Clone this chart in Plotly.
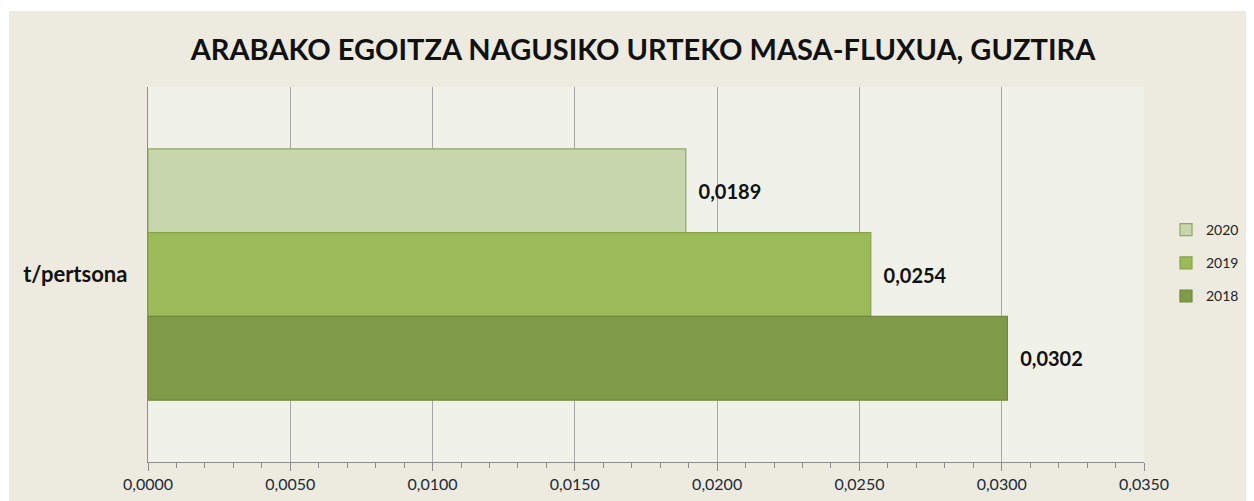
import plotly.graph_objects as go

categories = ["t/pertsona"]
values_2018 = [0.0302]
values_2019 = [0.0254]
values_2020 = [0.0189]
tick_vals = [0, 0.005, 0.01, 0.015, 0.02, 0.025, 0.03, 0.035]
tick_text = ["0,0000", "0,0050", "0,0100", "0,0150", "0,0200", "0,0250", "0,0300", "0,0350"]
title = "ARABAKO EGOITZA NAGUSIKO URTEKO MASA-FLUXUA, GUZTIRA"

series = [
    ("2020", values_2020, "#C7D6AC", "#8FA862"),
    ("2019", values_2019, "#9BBB59", "#86A548"),
    ("2018", values_2018, "#7F9A48", "#71893F"),
]

fig = go.Figure()
for name, vals, fill, line in series:
    fig.add_trace(go.Bar(
        y=categories, x=vals, name=name, orientation="h", legendgroup=name,
        marker=dict(color=fill, line=dict(color=line, width=1.2)),
        texttemplate="  %{x:.4f}", textposition="outside",
        textfont=dict(family="Lato", size=20, color="#111111", weight="bold"),
        cliponaxis=False,
    ))

# page body adds an 8px offset; figure coordinates are reference pixels minus 8
OFF = 8
W, H = 1254, 501 - OFF
x0p, x1p, y0p, y1p = 148 - OFF, 1144 - OFF, 87 - OFF, 462 - OFF
L, R, T, B = x0p, W - x1p, y0p, H - y1p
pw, ph = x1p - x0p, y1p - y0p

def px(x):
    return (x - OFF - x0p) / pw

def py(y):
    return (y1p - (y - OFF)) / ph

# white strips at top and left of the beige chart area
fig.add_shape(type="rect", xref="paper", yref="paper", layer="below",
              x0=px(0), x1=px(1270), y0=py(11), y1=py(-5),
              fillcolor="white", line=dict(width=0))
fig.add_shape(type="rect", xref="paper", yref="paper", layer="below",
              x0=px(0), x1=px(9), y0=py(510), y1=py(-5),
              fillcolor="white", line=dict(width=0))

fig.update_layout(
    width=W, height=H,
    margin=dict(l=L, r=R, t=T, b=B, autoexpand=False),
    paper_bgcolor="#EDEBE0", plot_bgcolor="#F0F2EA",
    separators=", ",
    barmode="group", bargap=0.33, bargroupgap=0,
    title=dict(text="<b>" + title + "</b>", x=(643 - OFF) / W, xanchor="center",
               y=1 - (50 - OFF) / H, yanchor="middle",
               font=dict(family="Lato", size=29, color="#111111")),
    legend=dict(x=px(1166), y=py(214), xanchor="left", yanchor="top",
                traceorder="grouped", tracegroupgap=12,
                bgcolor="rgba(0,0,0,0)",
                font=dict(family="Lato", size=14, color="#222222"),
                itemwidth=30),
    showlegend=True,
)
fig.update_xaxes(
    range=[0, 0.035], tickvals=tick_vals, ticktext=tick_text,
    showgrid=True, gridcolor="#A6A6A6", gridwidth=1.3,
    showline=True, linecolor="#8C8C8C", linewidth=1.3,
    ticks="outside", ticklen=8, tickcolor="#8C8C8C",
    minor=dict(dtick=0.001, ticks="outside", ticklen=5, tickcolor="#8C8C8C", showgrid=False),
    tickfont=dict(family="Lato", size=16, color="#1A2A3A"),
    zeroline=False,
)
fig.update_yaxes(
    autorange="reversed",
    showline=True, linecolor="#8C8C8C", linewidth=1.3, showgrid=False,
    ticks="", ticklabelstandoff=15,
    tickfont=dict(family="Lato", size=22, color="#111111", weight="bold"),
)

fig.write_html("out.html")
